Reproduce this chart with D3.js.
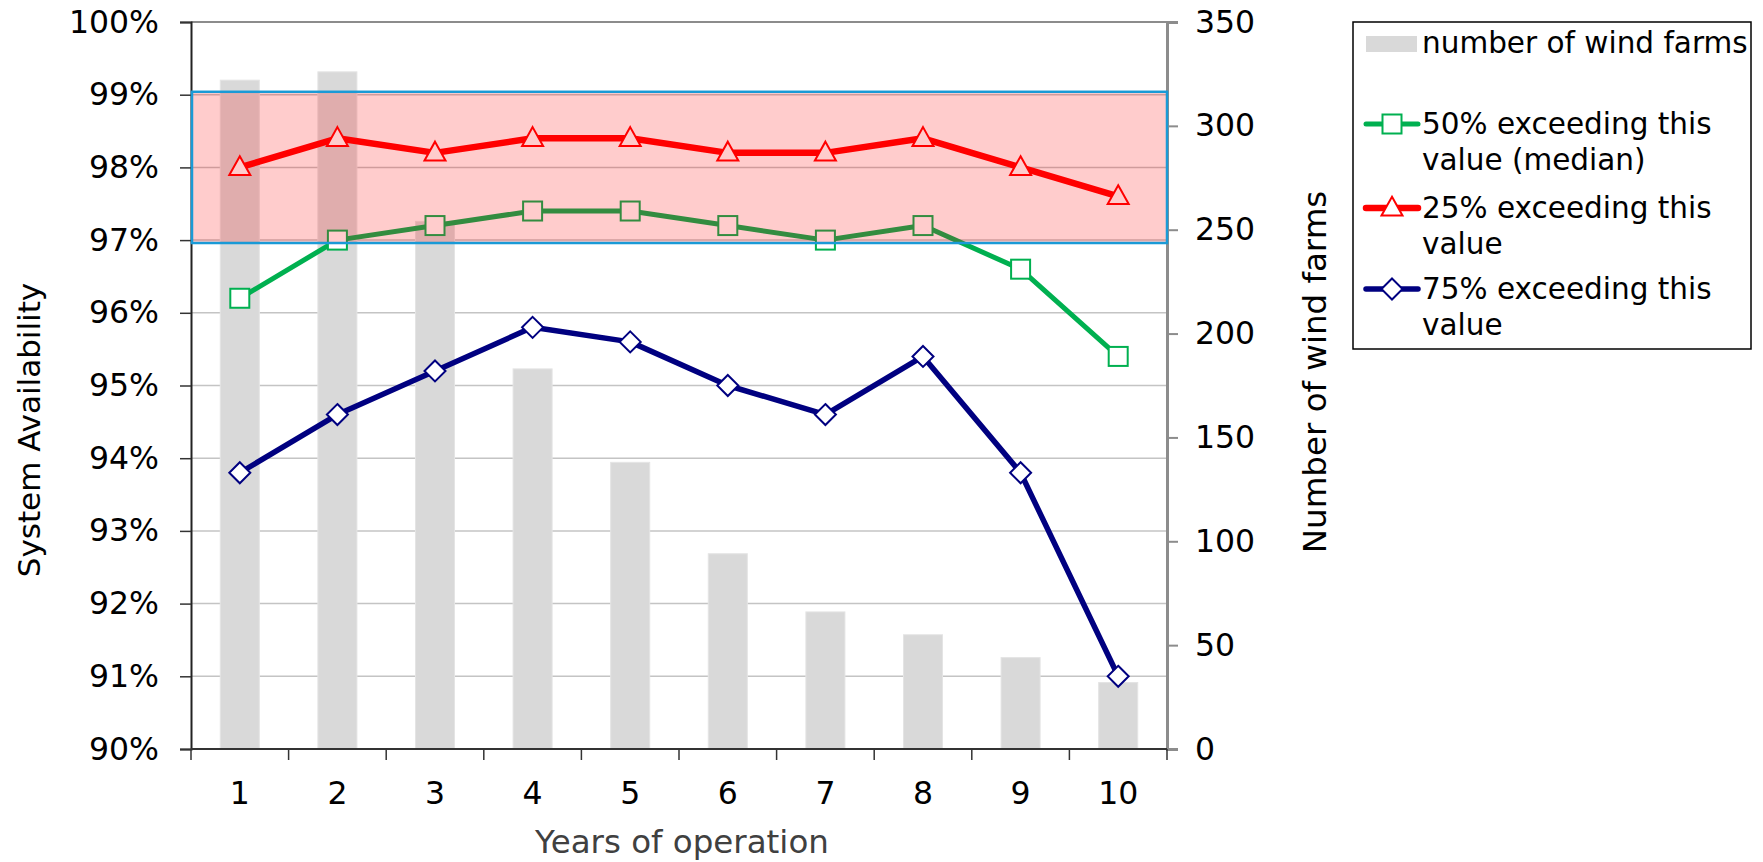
<!DOCTYPE html>
<html>
<head>
<meta charset="utf-8">
<script src="https://cdn.jsdelivr.net/npm/d3@7"></script>
<style>
  html, body { margin: 0; padding: 0; background: #fff; }
  svg { display: block; font-family: "DejaVu Sans", Verdana, sans-serif; }
</style>
</head>
<body>
<svg id="chart" width="1763" height="862"></svg>
<script>
// Years of operation
const years = [1, 2, 3, 4, 5, 6, 7, 8, 9, 10];
// Number of wind farms per year (right axis)
const windFarms = [322, 326, 254, 183, 138, 94, 66, 55, 44, 32];
// System availability percentiles (left axis, %)
const exceed50 = [96.2, 97.0, 97.2, 97.4, 97.4, 97.2, 97.0, 97.2, 96.6, 95.4];
const exceed25 = [98.0, 98.4, 98.2, 98.4, 98.4, 98.2, 98.2, 98.4, 98.0, 97.6];
const exceed75 = [93.8, 94.6, 95.2, 95.8, 95.6, 95.0, 94.6, 95.4, 93.8, 91.0];
// Highlighted availability range (%)
const bandRange = [96.96, 99.04];
// Axis ticks
const leftTicks = [90, 91, 92, 93, 94, 95, 96, 97, 98, 99, 100];
const rightTicks = [0, 50, 100, 150, 200, 250, 300, 350];

const svg = d3.select("#chart");
const plot = { left: 191, right: 1167, top: 22, bottom: 749 };

const x = d3.scaleBand().domain(years).range([plot.left, plot.right]).paddingInner(0).paddingOuter(0);
const yL = d3.scaleLinear().domain([90, 100]).range([plot.bottom, plot.top]);
const yR = d3.scaleLinear().domain([0, 350]).range([plot.bottom, plot.top]);

// gridlines
svg.append("g").selectAll("line").data(leftTicks.slice(1, -1)).join("line")
  .attr("x1", plot.left).attr("x2", plot.right)
  .attr("y1", d => yL(d)).attr("y2", d => yL(d))
  .attr("stroke", "#c4c4c4").attr("stroke-width", 1.5);

// bars
const barW = x.bandwidth() * 0.4;
svg.append("g").selectAll("rect").data(years).join("rect")
  .attr("x", d => x(d) + (x.bandwidth() - barW) / 2)
  .attr("width", barW)
  .attr("y", (d, i) => yR(windFarms[i]))
  .attr("height", (d, i) => yR(0) - yR(windFarms[i]))
  .attr("fill", "#d9d9d9").attr("stroke", "#e4e4e4").attr("stroke-width", 1);

// plot frame (top edge)
svg.append("line").attr("x1", plot.left).attr("x2", plot.right)
  .attr("y1", plot.top).attr("y2", plot.top)
  .attr("stroke", "#8c8c8c").attr("stroke-width", 2);

// axes
const axisFont = 31.5;
const gL = svg.append("g").attr("transform", `translate(${plot.left},0)`)
  .call(d3.axisLeft(yL).tickValues(leftTicks).tickSize(11).tickPadding(21).tickFormat(d => d + "%"));
gL.select(".domain").attr("stroke", "#222").attr("stroke-width", 2);
gL.selectAll(".tick line").attr("stroke", "#333").attr("stroke-width", 1.5);
gL.selectAll("text").attr("font-size", axisFont).attr("fill", "#000").attr("font-family", "DejaVu Sans");

const gR = svg.append("g").attr("transform", `translate(${plot.right},0)`)
  .call(d3.axisRight(yR).tickValues(rightTicks).tickSize(11).tickPadding(17));
gR.select(".domain").attr("stroke", "#8c8c8c").attr("stroke-width", 3);
gR.selectAll(".tick line").attr("stroke", "#8c8c8c").attr("stroke-width", 2);
gR.selectAll("text").attr("font-size", axisFont).attr("fill", "#000").attr("font-family", "DejaVu Sans");

// category axis with ticks between categories
const gB = svg.append("g").attr("transform", `translate(0,${plot.bottom})`);
gB.append("line").attr("x1", plot.left).attr("x2", plot.right).attr("y1", 0).attr("y2", 0)
  .attr("stroke", "#333").attr("stroke-width", 2);
const boundaries = years.map(d => x(d)).concat([x(years[years.length - 1]) + x.bandwidth()]);
gB.selectAll("line.tk").data(boundaries).join("line").attr("class", "tk")
  .attr("x1", d => d).attr("x2", d => d).attr("y1", 0).attr("y2", 11)
  .attr("stroke", "#333").attr("stroke-width", 1.5);
gB.selectAll("text").data(years).join("text")
  .attr("x", d => x(d) + x.bandwidth() / 2).attr("y", 55)
  .attr("text-anchor", "middle").attr("font-size", axisFont).attr("fill", "#000")
  .text(d => d);

// axis titles
svg.append("text").attr("x", (plot.left + plot.right) / 2 + 3).attr("y", 853)
  .attr("text-anchor", "middle").attr("font-size", 32.5).attr("fill", "#404040")
  .text("Years of operation");
svg.append("text").attr("transform", "translate(40,430) rotate(-90)")
  .attr("text-anchor", "middle").attr("font-size", 31).attr("fill", "#000")
  .text("System Availability");
svg.append("text").attr("transform", "translate(1326,372) rotate(-90)")
  .attr("text-anchor", "middle").attr("font-size", 32.5).attr("fill", "#000")
  .text("Number of wind farms");

// marker shapes
const markerSize = 19;
function drawMarker(g, shape, cx, cy, color) {
  const s = markerSize;
  if (shape === "square") {
    g.append("rect").attr("x", cx - s / 2).attr("y", cy - s / 2).attr("width", s).attr("height", s)
      .attr("fill", "#fff").attr("stroke", color).attr("stroke-width", 2);
  } else if (shape === "triangle") {
    const h = s * 0.95;
    g.append("path").attr("d", `M${cx},${cy - h * 0.62}L${cx + s / 2 + 1},${cy + h * 0.42}L${cx - s / 2 - 1},${cy + h * 0.42}Z`)
      .attr("fill", "#fff").attr("stroke", color).attr("stroke-width", 2);
  } else {
    const r = s / 2 + 1;
    g.append("path").attr("d", `M${cx},${cy - r}L${cx + r},${cy}L${cx},${cy + r}L${cx - r},${cy}Z`)
      .attr("fill", "#fff").attr("stroke", color).attr("stroke-width", 2);
  }
}

const series = [
  { name: "50%", values: exceed50, color: "#00b050", width: 5, shape: "square" },
  { name: "25%", values: exceed25, color: "#ff0000", width: 6.5, shape: "triangle" },
  { name: "75%", values: exceed75, color: "#000080", width: 5.5, shape: "diamond" }
];

const line = d3.line().x(d => x(d.year) + x.bandwidth() / 2).y(d => yL(d.v));
series.forEach(s => {
  const pts = years.map((yr, i) => ({ year: yr, v: s.values[i] }));
  const g = svg.append("g");
  g.append("path").datum(pts).attr("d", line)
    .attr("fill", "none").attr("stroke", s.color).attr("stroke-width", s.width)
    .attr("stroke-linejoin", "round");
  pts.forEach(p => drawMarker(g, s.shape, x(p.year) + x.bandwidth() / 2, yL(p.v), s.color));
});

// highlighted availability band drawn over the data
svg.append("rect")
  .attr("x", plot.left + 1).attr("width", plot.right - plot.left - 1)
  .attr("y", yL(bandRange[1])).attr("height", yL(bandRange[0]) - yL(bandRange[1]))
  .attr("fill", "rgba(255,0,0,0.2)").attr("stroke", "#1a9ad6").attr("stroke-width", 2.5);

// legend
const lg = svg.append("g");
lg.append("rect").attr("x", 1353).attr("y", 22).attr("width", 398).attr("height", 327)
  .attr("fill", "#fff").attr("stroke", "#000").attr("stroke-width", 1.5);
const legFont = 29.5;
const tx = 1422;
lg.append("rect").attr("x", 1366).attr("y", 36).attr("width", 51).attr("height", 16).attr("fill", "#d9d9d9");
lg.append("text").attr("x", tx).attr("y", 53).attr("font-size", legFont).text("number of wind farms");

const legendItems = [
  { s: series[0], lines: ["50% exceeding this", "value (median)"], y: 124 },
  { s: series[1], lines: ["25% exceeding this", "value"], y: 208 },
  { s: series[2], lines: ["75% exceeding this", "value"], y: 289 }
];
legendItems.forEach(it => {
  lg.append("line").attr("x1", 1366).attr("x2", 1418).attr("y1", it.y).attr("y2", it.y)
    .attr("stroke", it.s.color).attr("stroke-width", it.s.width).attr("stroke-linecap", "round");
  drawMarker(lg, it.s.shape, 1392, it.y, it.s.color);
  it.lines.forEach((t, j) => {
    lg.append("text").attr("x", tx).attr("y", it.y + 10 + j * 36).attr("font-size", legFont).text(t);
  });
});
</script>
</body>
</html>
